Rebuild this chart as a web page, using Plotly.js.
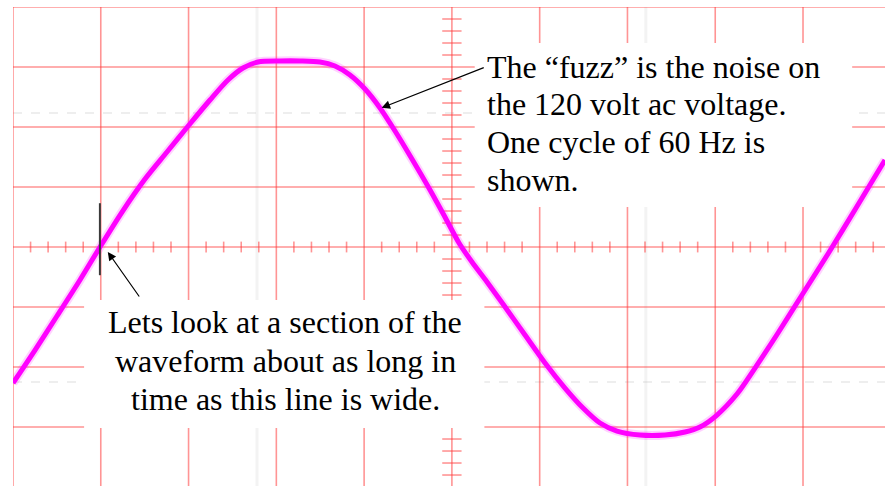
<!DOCTYPE html>
<html>
<head>
<meta charset="utf-8">
<script src="https://cdn.plot.ly/plotly-3.0.1.min.js"></script>
<style>html,body{margin:0;padding:0;background:#fff;}#chart{width:885px;height:486px;}</style>
</head>
<body>
<div id="chart"></div>
<script>
const timeDiv = [0.000, 0.251, 0.501, 0.763, 0.991, 1.242, 1.504, 1.754, 2.005, 2.244, 2.449, 2.620, 2.791, 3.042, 3.270, 3.497, 3.668, 3.839, 4.010, 4.181, 4.352, 4.545, 4.751, 4.921, 5.081, 5.229, 5.400, 5.582, 5.833, 6.061, 6.288, 6.494, 6.687, 6.881, 7.143, 7.428, 7.656, 7.826, 8.020, 8.248, 8.453, 8.715, 8.988, 9.284, 9.604, 9.934];
const voltDiv = [-2.267, -1.717, -1.150, -0.550, 0.000, 0.583, 1.133, 1.583, 2.033, 2.450, 2.783, 2.983, 3.083, 3.100, 3.100, 3.083, 3.017, 2.867, 2.633, 2.317, 1.933, 1.467, 0.950, 0.500, 0.067, -0.250, -0.583, -0.950, -1.467, -1.933, -2.350, -2.683, -2.933, -3.067, -3.133, -3.133, -3.083, -3.000, -2.800, -2.450, -2.017, -1.433, -0.800, -0.117, 0.650, 1.450];

// Scope graticule
const xDivs = [0,1,2,3,4,5,6,7,8,9,10];
const yDivs = [-4,-3,-2,-1,0,1,2,3,4];
const cursorY = [2.233, -2.25];
const cursorX = [2.78, 7.21];

// Annotation texts
const noteTop = ['The \u201cfuzz\u201d is the noise on', 'the 120 volt ac voltage.', 'One cycle of 60 Hz is', 'shown.'];
const noteBottom = ['Lets look at a section of the', 'waveform about as long in', 'time as this line is wide.'];

const XR = [0, 9.934], YR = [-3.983, 4];
const gridColor = 'rgba(255,60,60,0.55)';
const shapes = [];

// faint gray cursors
cursorY.forEach(v => shapes.push({type:'line', layer:'below', x0:XR[0], x1:XR[1], y0:v, y1:v, line:{color:'rgba(200,200,200,0.3)', width:2, dash:'dash'}}));
cursorX.forEach(v => shapes.push({type:'line', layer:'below', x0:v, x1:v, y0:YR[0], y1:YR[1], line:{color:'rgba(200,200,200,0.22)', width:3}}));

// grid
xDivs.forEach(v => shapes.push({type:'line', layer:'below', x0:v, x1:v, y0:-4, y1:4, line:{color:gridColor, width:1.6}}));
yDivs.forEach(v => shapes.push({type:'line', layer:'below', x0:0, x1:10, y0:v, y1:v, line:{color:gridColor, width:1.6}}));
// minor ticks on center axes
for (let i = 1; i < 50; i++) {
  if (i % 5 === 0) continue;
  const t = i * 0.2;
  shapes.push({type:'line', layer:'below', x0:t, x1:t, y0:-0.09, y1:0.09, line:{color:gridColor, width:1.6}});
}
for (let i = -19; i < 20; i++) {
  if (i % 5 === 0) continue;
  const t = i * 0.2;
  shapes.push({type:'line', layer:'below', x0:4.89, x1:5.11, y0:t, y1:t, line:{color:gridColor, width:1.6}});
}
// white text boxes
shapes.push({type:'rect', layer:'below', x0:5.26, x1:9.56, y0:0.667, y1:3.40, fillcolor:'#ffffff', line:{width:0}});
shapes.push({type:'rect', layer:'below', x0:0.81, x1:5.37, y0:-3.017, y1:-0.883, fillcolor:'#ffffff', line:{width:0}});
// black "section width" marker
shapes.push({type:'line', layer:'above', x0:0.99, x1:0.99, y0:-0.47, y1:0.73, line:{color:'#3a3a3a', width:2}});

const font = {family:'Liberation Serif, Times New Roman, serif', size:32, color:'#000'};
const annotations = [];
const topY = [3.008, 2.383, 1.75, 1.117];
noteTop.forEach((t, i) => annotations.push({x:5.377, y:topY[i], xref:'x', yref:'y', text:t, showarrow:false, xanchor:'left', yanchor:'middle', font:font}));
const botY = [-1.258, -1.9, -2.525];
noteBottom.forEach((t, i) => annotations.push({x:3.099, y:botY[i], xref:'x', yref:'y', text:t, showarrow:false, xanchor:'center', yanchor:'middle', font:font}));
// arrows
annotations.push({x:4.20, y:2.32, ax:5.38, ay:3.0, axref:'x', ayref:'y', xref:'x', yref:'y', text:'', showarrow:true, arrowhead:2, arrowsize:1.4, arrowwidth:1.2, arrowcolor:'#000', standoff:0});
annotations.push({x:1.08, y:-0.083, ax:1.45, ay:-0.85, axref:'x', ayref:'y', xref:'x', yref:'y', text:'', showarrow:true, arrowhead:2, arrowsize:1.4, arrowwidth:1.2, arrowcolor:'#000', standoff:0});

const traces = [
  {x:timeDiv, y:voltDiv, mode:'lines', line:{color:'rgba(255,0,255,0.18)', width:9, shape:'spline', smoothing:0.8}, hoverinfo:'skip'},
  {x:timeDiv, y:voltDiv, mode:'lines', line:{color:'#ff00ff', width:5, shape:'spline', smoothing:0.8}, hoverinfo:'skip'}
];

const layout = {
  width:885, height:486,
  margin:{l:13, r:0, t:7, b:0, pad:0},
  paper_bgcolor:'#fff', plot_bgcolor:'#fff',
  showlegend:false,
  xaxis:{range:XR, showgrid:false, zeroline:false, showticklabels:false, ticks:'', showline:false, fixedrange:true},
  yaxis:{range:YR, showgrid:false, zeroline:false, showticklabels:false, ticks:'', showline:false, fixedrange:true},
  shapes:shapes,
  annotations:annotations
};
Plotly.newPlot('chart', traces, layout, {displayModeBar:false, staticPlot:true});
</script>
</body>
</html>
